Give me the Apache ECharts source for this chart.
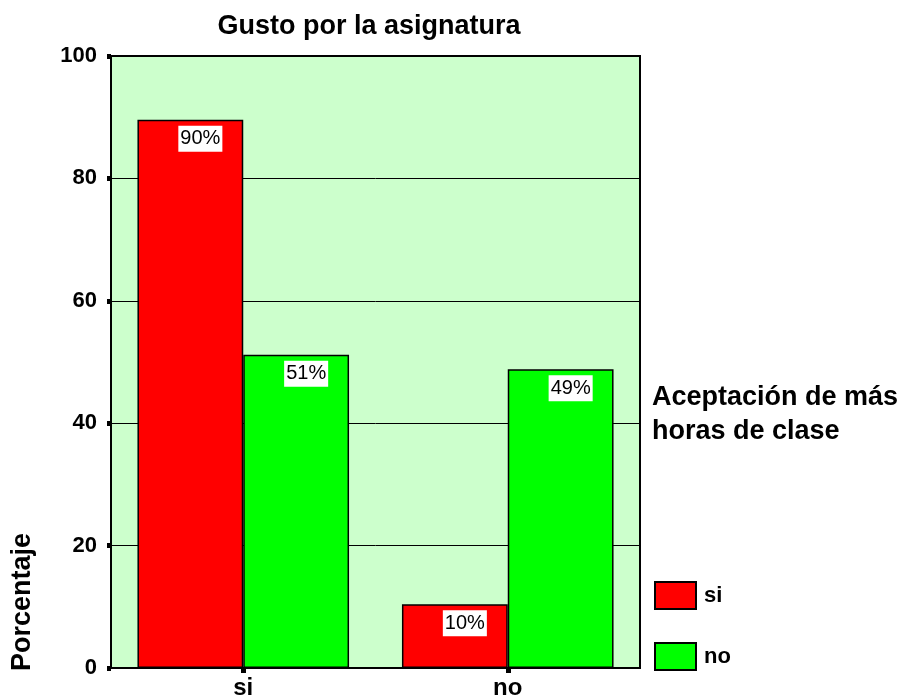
<!DOCTYPE html>
<html>
<head>
<meta charset="utf-8">
<script src="https://cdn.jsdelivr.net/npm/echarts@6/dist/echarts.min.js"></script>
<style>
  html, body { margin: 0; padding: 0; background: #ffffff; }
  #chart { width: 900px; height: 699px; }
</style>
</head>
<body>
<div id="chart"></div>
<script>
// Gusto por la asignatura (categories) vs. aceptación de más horas de clase (series)
const categories = ['si', 'no'];
const seriesNames = ['si', 'no'];
const valuesSi = [89.6, 10.4];
const valuesNo = [51.2, 48.8];
const yTicks = [0, 20, 40, 60, 80, 100];

const FONT = '"Liberation Sans", Arial, Helvetica, sans-serif';
const chart = echarts.init(document.getElementById('chart'));

function barLabel() {
  return {
    show: true,
    position: 'insideTop',
    distance: 6,
    offset: [10, 0],
    formatter: p => Math.round(p.value) + '%',
    backgroundColor: '#ffffff',
    padding: [3, 2, 3, 2],
    color: '#000000',
    fontFamily: FONT,
    fontSize: 20
  };
}

chart.setOption({
  animation: false,
  backgroundColor: '#ffffff',
  title: [
    {
      text: 'Gusto por la asignatura',
      left: 369, top: 13, textAlign: 'center', padding: 0,
      textStyle: { fontFamily: FONT, fontWeight: 'bold', fontSize: 27, color: '#000' }
    },
    {
      text: 'Aceptación de más\nhoras de clase',
      left: 652, top: 381, padding: 0,
      textStyle: { fontFamily: FONT, fontWeight: 'bold', fontSize: 27, color: '#000', lineHeight: 34 }
    }
  ],
  legend: {
    orient: 'vertical',
    left: 654, top: 581, padding: 0,
    itemWidth: 41, itemHeight: 27, itemGap: 32,
    icon: 'rect',
    data: seriesNames,
    textStyle: { fontFamily: FONT, fontWeight: 'bold', fontSize: 22, color: '#000', padding: [2, 0, 0, 3] }
  },
  grid: {
    left: 111, right: 260, top: 56, bottom: 31,
    containLabel: false,
    outerBoundsMode: 'none',
    show: true,
    backgroundColor: '#ccffcc',
    borderColor: '#000000',
    borderWidth: 2
  },
  xAxis: {
    type: 'category',
    data: categories,
    axisLine: { show: true, lineStyle: { color: '#000', width: 2 } },
    axisTick: { show: true, alignWithLabel: true, length: 5, lineStyle: { color: '#000', width: 5 } },
    axisLabel: { fontFamily: FONT, fontWeight: 'bold', fontSize: 24, color: '#000', margin: 8 },
    splitLine: { show: false }
  },
  yAxis: {
    type: 'value',
    min: yTicks[0], max: yTicks[yTicks.length - 1], interval: 20,
    axisLine: { show: true, lineStyle: { color: '#000', width: 2 } },
    axisTick: { show: true, length: 4, lineStyle: { color: '#000', width: 5 } },
    axisLabel: { fontFamily: FONT, fontWeight: 'bold', fontSize: 22, color: '#000', margin: 14 },
    splitLine: { show: true, lineStyle: { color: '#000', width: 1 } }
  },
  graphic: [
    {
      type: 'text',
      left: 9, top: 533,
      rotation: Math.PI / 2,
      style: {
        text: 'Porcentaje',
        fill: '#000',
        font: 'bold 27px ' + FONT
      }
    }
  ],
  series: [
    {
      name: seriesNames[0],
      type: 'bar',
      data: valuesSi,
      barGap: '0%',
      barCategoryGap: '20%',
      itemStyle: { color: '#ff0000', borderColor: '#000', borderWidth: 1.5 },
      label: barLabel()
    },
    {
      name: seriesNames[1],
      type: 'bar',
      data: valuesNo,
      itemStyle: { color: '#00ff00', borderColor: '#000', borderWidth: 1.5 },
      label: barLabel()
    }
  ]
});
</script>
</body>
</html>
